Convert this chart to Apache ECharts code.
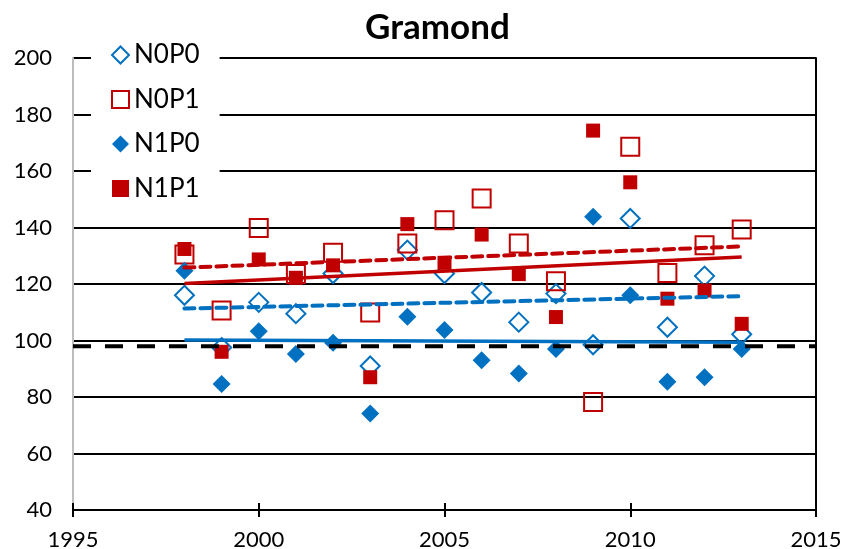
<!DOCTYPE html>
<html>
<head>
<meta charset="utf-8">
<script src="https://cdn.jsdelivr.net/npm/echarts@6/dist/echarts.min.js"></script>
<style>html,body{margin:0;padding:0;background:#fff}#c{width:841px;height:549px}</style>
</head>
<body>
<div id="c"></div>
<script>
const years = [1998,1999,2000,2001,2002,2003,2004,2005,2006,2007,2008,2009,2010,2011,2012,2013];
const n0p0 = [116, 97.5, 113.5, 109.5, 123.7, 91, 132, 123.7, 117, 106.5, 116.6, 98.5, 143.2, 104.7, 122.8, 102.2];
const n0p1 = [130.4, 110.6, 139.8, 123.5, 131.1, 109.9, 134.3, 142.6, 150.3, 134.3, 121, 78.2, 168.6, 123.9, 133.7, 139.3];
const n1p0 = [124.7, 84.6, 103.3, 95.2, 99.2, 74.2, 108.4, 103.7, 93, 88.3, 97, 143.8, 116, 85.4, 87, 97];
const n1p1 = [132.4, 96, 128.7, 122.2, 126.6, 87, 141.2, 127.5, 137.5, 123.5, 108.3, 174.3, 156, 114.8, 117.7, 105.9];
const trendYears = [1998, 2013];
const n0p0Trend = [111.3, 115.7];
const n0p1Trend = [125.8, 133.3];
const n1p0Trend = [100.2, 99.4];
const n1p1Trend = [120.2, 129.6];
const refYears = [1995, 2015];
const refLine = [98, 98];
const xTicks = [1995, 2000, 2005, 2010, 2015];
const yTicks = [40, 60, 80, 100, 120, 140, 160, 180, 200];

const BLUE = '#0070C0', RED = '#C00000';
const FONT = 'Lato';
const pair = (xs, ys) => xs.map((x, i) => [x, ys[i]]);

const chart = echarts.init(document.getElementById('c'), null, {renderer: 'canvas'});
chart.setOption({
  animation: false,
  backgroundColor: '#fff',
  title: {
    text: 'Gramond', left: 360, top: 5,
    textStyle: {fontFamily: FONT, fontWeight: 'bold', fontSize: 35, color: '#000'}
  },
  legend: {
    data: ['N0P0', 'N0P1', 'N1P0', 'N1P1'],
    orient: 'vertical', left: 91, top: 38,
    itemWidth: 17, itemHeight: 17, itemGap: 18.5,
    padding: [4, 20, 6, 20],
    backgroundColor: '#fff',
    textStyle: {fontFamily: FONT, fontSize: 26, color: '#000'}
  },
  grid: {left: 73, right: 25, top: 58, bottom: 39, containLabel: false, outerBoundsMode: 'none'},
  xAxis: [{
    type: 'value', min: xTicks[0], max: xTicks[xTicks.length - 1], interval: 5,
    axisLine: {show: true, lineStyle: {color: '#000', width: 2}},
    axisTick: {show: true, length: 7, lineStyle: {color: '#000', width: 2}},
    axisLabel: {fontFamily: FONT, fontSize: 22, color: '#000', margin: 19, formatter: v => String(v)},
    splitLine: {show: false}
  }, {
    type: 'value', position: 'bottom', min: xTicks[0], max: xTicks[xTicks.length - 1], interval: 5,
    axisLine: {show: false},
    axisTick: {show: true, inside: true, length: 7, lineStyle: {color: '#000', width: 2}},
    axisLabel: {show: false}, splitLine: {show: false}
  }],
  yAxis: [{
    type: 'value', min: yTicks[0], max: yTicks[yTicks.length - 1], interval: 20,
    axisLine: {show: true, lineStyle: {color: '#BDBDBD', width: 2}},
    axisTick: {show: false},
    axisLabel: {fontFamily: FONT, fontSize: 22, color: '#000', margin: 21, formatter: v => String(v)},
    splitLine: {show: true, lineStyle: {color: '#000', width: 2}}
  }, {
    type: 'value', position: 'right', min: yTicks[0], max: yTicks[yTicks.length - 1], interval: 20,
    axisLine: {show: true, lineStyle: {color: '#000', width: 2}},
    axisTick: {show: false}, axisLabel: {show: false}, splitLine: {show: false}
  }],
  series: [
    {name: 'N0P0', type: 'scatter', symbol: 'diamond', symbolSize: 19, z: 3,
     itemStyle: {color: 'rgba(255,255,255,0)', borderColor: BLUE, borderWidth: 2, opacity: 1},
     data: pair(years, n0p0)},
    {name: 'N0P1', type: 'scatter', symbol: 'rect', symbolSize: 18, z: 3,
     itemStyle: {color: 'rgba(255,255,255,0)', borderColor: RED, borderWidth: 2, opacity: 1},
     data: pair(years, n0p1)},
    {name: 'N1P0', type: 'scatter', symbol: 'diamond', symbolSize: 18, z: 3,
     itemStyle: {color: BLUE, opacity: 1},
     data: pair(years, n1p0)},
    {name: 'N1P1', type: 'scatter', symbol: 'rect', symbolSize: 14, z: 3,
     itemStyle: {color: RED, opacity: 1},
     data: pair(years, n1p1)},
    {name: 'N0P0 trend', type: 'line', showSymbol: false, symbol: 'none', z: 4,
     lineStyle: {color: BLUE, width: 4, type: [10, 6], cap: 'round'},
     data: pair(trendYears, n0p0Trend)},
    {name: 'N0P1 trend', type: 'line', showSymbol: false, symbol: 'none', z: 4,
     lineStyle: {color: RED, width: 4, type: [10, 6], cap: 'round'},
     data: pair(trendYears, n0p1Trend)},
    {name: 'N1P0 trend', type: 'line', showSymbol: false, symbol: 'none', z: 4,
     lineStyle: {color: BLUE, width: 3.5},
     data: pair(trendYears, n1p0Trend)},
    {name: 'N1P1 trend', type: 'line', showSymbol: false, symbol: 'none', z: 4,
     lineStyle: {color: RED, width: 3.5},
     data: pair(trendYears, n1p1Trend)},
    {name: 'ref', type: 'line', showSymbol: false, symbol: 'none', z: 5,
     lineStyle: {color: '#000', width: 4, type: [18, 14]},
     data: pair(refYears, refLine)}
  ]
});
</script>
</body>
</html>
